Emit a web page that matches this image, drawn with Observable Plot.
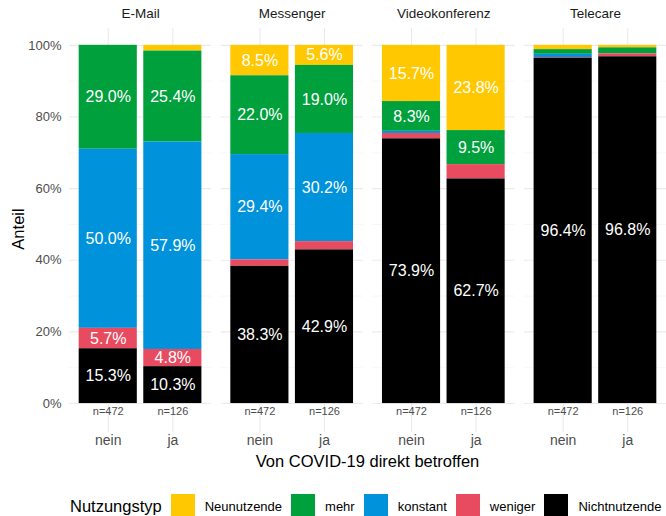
<!DOCTYPE html>
<html>
<head>
<meta charset="utf-8">
<script src="https://cdn.jsdelivr.net/npm/d3@7"></script>
<script src="https://cdn.jsdelivr.net/npm/@observablehq/plot@0.6"></script>
<style>
  html, body { margin: 0; padding: 0; background: #fff; }
  body { width: 666px; height: 516px; overflow: hidden; position: relative;
         font-family: "Liberation Sans", Arial, Helvetica, sans-serif; }
  #chart { position: absolute; left: 0; top: 0; }
  .ytitle { position: absolute; left: 18px; top: 229px; transform: translate(-50%, -50%) rotate(-90deg);
            font-size: 16.5px; color: #000; white-space: nowrap; }
  .xtitle { position: absolute; left: 367.5px; top: 461px; transform: translate(-50%, -50%);
            font-size: 16.5px; color: #000; white-space: nowrap; }
  #legend { position: absolute; left: 70px; top: 494px; height: 24px; display: flex; align-items: center; }
  #legend .ttl { font-size: 16.5px; color: #000; margin-right: 9px; }
  #legend .sw { width: 24px; height: 24px; margin-right: 10px; }
  #legend .lb { font-size: 13px; color: #000; margin-right: 9px; }
</style>
</head>
<body>
<div id="chart"></div>
<div class="ytitle">Anteil</div>
<div class="xtitle">Von COVID-19 direkt betroffen</div>
<div id="legend"></div>
<script>
const platforms = ["E-Mail", "Messenger", "Videokonferenz", "Telecare"];
const groups = ["nein", "ja"];
const nLabels = ["n=472", "n=126"];
const types = ["Neunutzende", "mehr", "konstant", "weniger", "Nichtnutzende"];
const typeColors = ["#FFC800", "#00A03C", "#0092DA", "#E84A5F", "#000000"];
const stackOrder = ["Nichtnutzende", "weniger", "konstant", "mehr", "Neunutzende"];
const yTicks = [0, 20, 40, 60, 80, 100];
const yMinor = [10, 30, 50, 70, 90];

// values per platform: [nein, ja], each in order of `types`
const emailValues     = [[0.0, 29.0, 50.0, 5.7, 15.3], [1.6, 25.4, 57.9, 4.8, 10.3]];
const messengerValues = [[8.5, 22.0, 29.4, 1.8, 38.3], [5.6, 19.0, 30.2, 2.3, 42.9]];
const videoValues     = [[15.7, 8.3, 0.6, 1.5, 73.9], [23.8, 9.5, 0.0, 4.0, 62.7]];
const telecareValues  = [[1.2, 1.3, 0.9, 0.2, 96.4], [0.7, 1.7, 0.0, 0.8, 96.8]];
const allValues = [emailValues, messengerValues, videoValues, telecareValues];

const rows = [];
platforms.forEach((p, pi) => {
  groups.forEach((g, gi) => {
    types.forEach((t, ti) => {
      rows.push({platform: p, group: g, type: t, value: allValues[pi][gi][ti]});
    });
  });
});
const nRows = [];
platforms.forEach(p => groups.forEach((g, gi) => nRows.push({platform: p, group: g, label: nLabels[gi]})));

const chart = Plot.plot({
  width: 666,
  height: 475,
  marginLeft: 69,
  marginRight: 0,
  marginTop: 28,
  marginBottom: 43,
  style: {fontFamily: '"Liberation Sans", Arial, Helvetica, sans-serif', background: "white", overflow: "visible"},
  fx: {domain: platforms, paddingInner: 0.063, paddingOuter: 0, round: false, label: null},
  x: {domain: groups, paddingInner: 0.1, paddingOuter: 0.15, round: false, label: null},
  y: {domain: [-8.08, 104.7], label: null},
  color: {domain: types, range: typeColors},
  marks: [
    Plot.gridY(yMinor, {stroke: "#F2F2F2", strokeOpacity: 1, strokeWidth: 0.6}),
    Plot.gridY(yTicks, {stroke: "#EBEBEB", strokeOpacity: 1, strokeWidth: 1.1}),
    Plot.gridX(groups, {stroke: "#EBEBEB", strokeOpacity: 1, strokeWidth: 1.1}),
    Plot.barY(rows, {fx: "platform", x: "group", y: "value", fill: "type", order: stackOrder, inset: 0}),
    Plot.text(rows, Plot.stackY({
      fx: "platform", x: "group", y: "value", z: "type", order: stackOrder,
      text: d => d.value >= 4.5 ? d.value.toFixed(1) + "%" : "",
      fill: "white", fontSize: 16
    })),
    Plot.text(nRows, {fx: "platform", x: "group", y: () => 0, text: "label", dy: 8, fontSize: 11, fill: "#4D4D4D", lineAnchor: "middle"}),
    Plot.axisY(yTicks, {tickFormat: d => d + "%", tickSize: 0, tickPadding: 8, fontSize: 13, fill: "#4D4D4D", label: null}),
    Plot.axisX({tickSize: 0, tickPadding: 3, fontSize: 14, fill: "#4D4D4D", label: null}),
    Plot.axisFx({anchor: "top", tickSize: 0, tickPadding: 11, fontSize: 13.5, fill: "#1A1A1A", label: null})
  ]
});
document.getElementById("chart").appendChild(chart);

const legend = document.getElementById("legend");
const ttl = document.createElement("span");
ttl.className = "ttl"; ttl.textContent = "Nutzungstyp";
legend.appendChild(ttl);
types.forEach((t, i) => {
  const sw = document.createElement("span");
  sw.className = "sw"; sw.style.background = typeColors[i];
  legend.appendChild(sw);
  const lb = document.createElement("span");
  lb.className = "lb"; lb.textContent = t;
  legend.appendChild(lb);
});
</script>
</body>
</html>
